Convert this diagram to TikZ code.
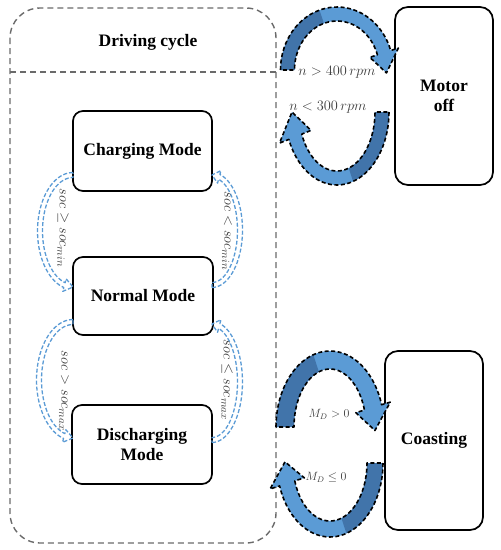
\documentclass[tikz,border=0pt]{standalone}
\usepackage{fontspec}
\setmainfont{Liberation Serif}
\usepackage{amssymb}
\definecolor{lblue}{HTML}{5B9BD5}
\definecolor{dblue}{HTML}{4174AA}
\definecolor{framegray}{HTML}{6A6A6A}
\definecolor{labgray}{HTML}{3C3C3C}
% band arrow along an ellipse: cx cy a b h H t0 t1 t2
\newcommand{\mybandarrow}[9]{%
 plot[domain=0:1,samples=40] ({#1+(#3+#5)*cos((#7)+((#8)-(#7))*\x)},{#2-(#4+#5)*sin((#7)+((#8)-(#7))*\x)})
 -- ({#1+(#3+#6)*cos(#8)},{#2-(#4+#6)*sin(#8)})
 -- ({#1+#3*cos(#9)},{#2-#4*sin(#9)})
 -- ({#1+(#3-#6)*cos(#8)},{#2-(#4-#6)*sin(#8)})
 -- plot[domain=0:1,samples=40] ({#1+(#3-#5)*cos((#8)+((#7)-(#8))*\x)},{#2-(#4-#5)*sin((#8)+((#7)-(#8))*\x)})
 -- cycle}
% darker leg: cx cy a b h t0 td
\newcommand{\myleg}[7]{%
 plot[domain=0:1,samples=20] ({#1+(#3+#5)*cos((#6)+((#7)-(#6))*\x)},{#2-(#4+#5)*sin((#6)+((#7)-(#6))*\x)})
 -- plot[domain=0:1,samples=20] ({#1+(#3-#5)*cos((#7)+((#6)-(#7))*\x)},{#2-(#4-#5)*sin((#7)+((#6)-(#7))*\x)})
 -- cycle}
\tikzset{
 modebox/.style={draw=black, line width=1.7pt, rounded corners=10pt, align=center, inner sep=0pt,
   font=\fontsize{17.5}{20}\selectfont\bfseries},
 sidebox/.style={modebox, rounded corners=13pt},
 bigfill/.style={fill=lblue},
 legfill/.style={fill=dblue},
 bigline/.style={draw=black, line width=1.6pt, dash pattern=on 4pt off 2.5pt, line join=round},
 socarrow/.style={draw=lblue, line width=1.3pt, dash pattern=on 4pt off 2pt, line join=round},
 cond/.style={text=labgray, inner sep=0pt, font=\fontsize{13.5}{15}\selectfont},
 condsmall/.style={text=labgray, inner sep=0pt, font=\fontsize{11.5}{13}\selectfont},
 soclab/.style={text=labgray, inner sep=0pt, font=\fontsize{15}{17}\selectfont, rotate=-90},
 framebox/.style={draw=framegray, line width=1.4pt, dash pattern=on 6pt off 4pt},
}
\begin{document}
\begin{tikzpicture}[x=1pt,y=-1pt]
\useasboundingbox (0,0) rectangle (501,550);
% outer driving cycle frame
\draw[framebox, rounded corners=30pt] (10,8) rectangle (276,543);
\coordinate (sepL) at (10,72);
\coordinate (sepR) at (276,72);
\draw[framebox] (sepL) -- (sepR);
\node[font=\fontsize{17.5}{20}\selectfont\bfseries] (title) at (148,42) {Driving cycle};

% mode boxes
\node[modebox, minimum width=139pt, minimum height=80pt] (charge) at (142.5,151) {Charging Mode};
\node[modebox, minimum width=140pt, minimum height=78pt] (normal) at (143,296) {Normal Mode};
\node[modebox, minimum width=140pt, minimum height=79pt] (discharge) at (142,444.5) {Discharging\\Mode};
\node[sidebox, minimum width=98pt, minimum height=178pt] (motoroff) at (444,96) {Motor\\off};
\node[sidebox, minimum width=98pt, minimum height=179pt] (coast) at (434,440.5) {Coasting};

% soc transition arrows (dashed outlines)
\draw[socarrow] \mybandarrow{73}{231}{33}{56}{2.5}{6.5}{90}{255}{270};
\draw[socarrow] \mybandarrow{212}{230}{28}{55}{2.5}{6.5}{-90}{75}{90};
\draw[socarrow] \mybandarrow{73}{380}{34}{58}{2.5}{6.5}{90}{255}{270};
\draw[socarrow] \mybandarrow{212}{382}{28}{58}{2.5}{6.5}{-90}{75}{90};

\node[soclab] (l1) at (63,228) {$soc \geq soc_{min}$};
\node[soclab] (l2) at (227,231) {$soc < soc_{min}$};
\node[soclab] (l3) at (64,391) {$soc > soc_{max}$};
\node[soclab] (l4) at (227,380) {$soc \leq soc_{max}$};

% motor off arrows
\fill[bigfill] \mybandarrow{337}{70}{49.5}{56}{7}{15}{180}{18}{-3};
\fill[legfill] \myleg{337}{70}{49.5}{56}{7}{180}{108};
\draw[bigline] \mybandarrow{337}{70}{49.5}{56}{7}{15}{180}{18}{-3};

\fill[bigfill] \mybandarrow{337}{112}{45}{66}{7}{17}{0}{-158}{-180};
\fill[legfill] \myleg{337}{112}{45}{66}{7}{0}{-72};
\draw[bigline] \mybandarrow{337}{112}{45}{66}{7}{17}{0}{-158}{-180};

% coasting arrows
\fill[bigfill] \mybandarrow{330}{427}{45}{67}{9}{18}{180}{17}{-3};
\fill[legfill] \myleg{330}{427}{45}{67}{9}{180}{108};
\draw[bigline] \mybandarrow{330}{427}{45}{67}{9}{18}{180}{17}{-3};

\fill[bigfill] \mybandarrow{330}{463}{45}{66}{8}{18}{0}{-162}{-181};
\fill[legfill] \myleg{330}{463}{45}{66}{8}{0}{-72};
\draw[bigline] \mybandarrow{330}{463}{45}{66}{8}{18}{0}{-162}{-181};

% condition labels
\node[cond] (c1) at (337,72) {$n > 400\,rpm$};
\node[cond] (c2) at (328,107) {$n < 300\,rpm$};
\node[condsmall] (c3) at (329,414) {$M_D > 0$};
\node[condsmall] (c4) at (326,477) {$M_D \leq 0$};
\end{tikzpicture}
\end{document}
